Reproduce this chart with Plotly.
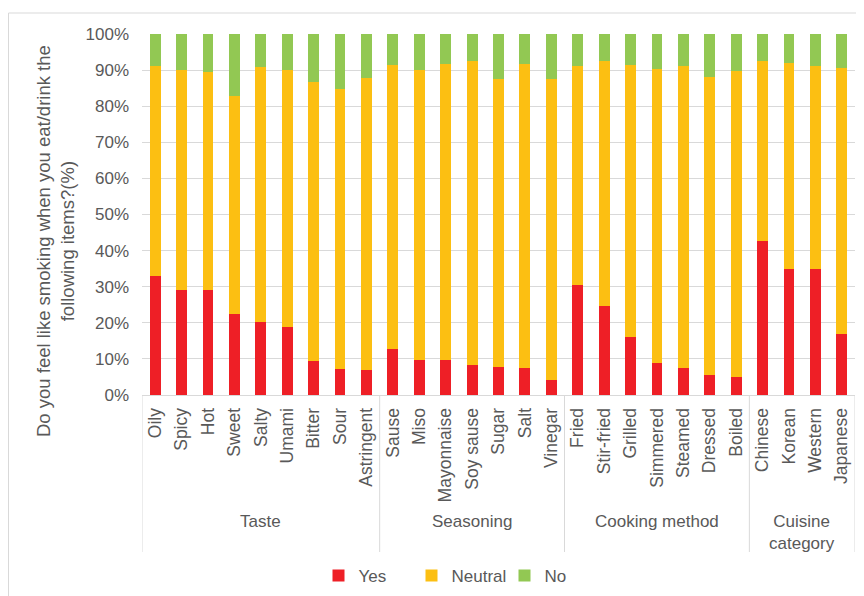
import plotly.graph_objects as go

# ---------------- data ----------------
categories = ["Oily", "Spicy", "Hot", "Sweet", "Salty", "Umami", "Bitter", "Sour", "Astringent",
              "Sause", "Miso", "Mayonnaise", "Soy sause", "Sugar", "Salt", "Vinegar",
              "Fried", "Stir-fried", "Grilled", "Simmered", "Steamed", "Dressed", "Boiled",
              "Chinese", "Korean", "Western", "Japanese"]
group_names = ["Taste", "Seasoning", "Cooking method", "Cuisine<br>category"]
group_sizes = [9, 7, 7, 4]

yes_vals = [33.1, 29.2, 29.0, 22.4, 20.2, 18.7, 9.5, 7.3, 6.8,
            12.8, 9.6, 9.6, 8.2, 7.8, 7.5, 4.1,
            30.6, 24.7, 16.1, 8.9, 7.5, 5.6, 5.0,
            42.6, 34.8, 34.8, 16.8]
neutral_vals = [58.1, 60.8, 60.6, 60.3, 70.7, 71.3, 77.3, 77.6, 81.1,
                78.6, 80.5, 82.1, 84.4, 79.8, 84.1, 83.3,
                60.6, 67.8, 75.3, 81.3, 83.7, 82.4, 84.7,
                49.8, 57.1, 56.3, 73.9]
no_vals = [8.8, 10.0, 10.4, 17.3, 9.1, 10.0, 13.2, 15.1, 12.1,
           8.6, 9.9, 8.3, 7.4, 12.4, 8.4, 12.6,
           8.8, 7.5, 8.6, 9.8, 8.8, 12.0, 10.3,
           7.6, 8.1, 8.9, 9.3]

y_tick_vals = [0, 10, 20, 30, 40, 50, 60, 70, 80, 90, 100]
y_tick_text = [f"{v}%" for v in y_tick_vals]

y_title = "Do you feel like smoking when you eat/drink the<br>following items?(%)"

# ---------------- style ----------------
FONT = "Liberation Sans, Arial, sans-serif"
TXT = "#595959"
GRID = "#D9D9D9"
RED, YEL, GRN = "#EE1F26", "#FCBF12", "#92C853"

OFF = 8                     # page body margin of the html page
W, H = 864 - OFF, 596 - OFF
L, R, T = 142 - OFF, 9, 34 - OFF
B = H - (395 - OFF)
plot_h = H - T - B
plot_w = W - L - R

def py(page_y):  # page pixel y -> paper y
    return (H - B - (page_y - OFF)) / plot_h

def px(page_x):  # page pixel x -> paper x
    return ((page_x - OFF) - L) / plot_w

x_idx = list(range(len(categories)))

fig = go.Figure()
for name, vals, col in [("Yes", yes_vals, RED), ("Neutral", neutral_vals, YEL), ("No", no_vals, GRN)]:
    fig.add_trace(go.Bar(x=x_idx, y=vals, name=name, marker=dict(color=col, line=dict(width=0))))

# group separators and labels
shapes = []
annotations = []
start = 0
bounds = [-0.5]
for gname, gsize in zip(group_names, group_sizes):
    end = start + gsize
    bounds.append(end - 0.5)
    annotations.append(dict(x=(start + end - 1) / 2, xref="x", y=py(510), yref="paper",
                            text=gname, showarrow=False, xanchor="center", yanchor="top",
                            font=dict(family=FONT, size=17, color=TXT)))
    start = end
for b in bounds:
    shapes.append(dict(type="line", xref="x", yref="paper", x0=b, x1=b, y0=0, y1=py(552),
                       line=dict(color=GRID, width=1)))

# outer chart frame
shapes.append(dict(type="rect", xref="paper", yref="paper", x0=px(8.5), x1=px(900), y0=py(650), y1=py(13),
                   line=dict(color=GRID, width=1), fillcolor="rgba(0,0,0,0)", layer="below"))

# y-axis title
annotations.append(dict(x=px(55), xref="paper", y=py(241), yref="paper", text=y_title,
                        textangle=-90, showarrow=False, xanchor="center", yanchor="middle",
                        font=dict(family=FONT, size=18.5, color=TXT)))

fig.update_layout(
    width=W, height=H,
    margin=dict(l=L, r=R, t=T, b=B, autoexpand=False),
    paper_bgcolor="white", plot_bgcolor="white",
    barmode="stack", bargap=0.59,
    font=dict(family=FONT, color=TXT, size=17),
    xaxis=dict(range=[-0.5, len(categories) - 0.5], tickmode="array", tickvals=x_idx,
               ticktext=categories, tickangle=-90, showgrid=False, zeroline=False,
               showline=True, linecolor=GRID, linewidth=1, ticks="", ticklabelstandoff=5,
               tickfont=dict(family=FONT, size=17.5, color=TXT), fixedrange=True),
    yaxis=dict(range=[0, 100], tickmode="array", tickvals=y_tick_vals, ticktext=y_tick_text,
               showgrid=True, gridcolor=GRID, gridwidth=1, zeroline=False, showline=False,
               ticks="", ticklabelstandoff=12, tickfont=dict(family=FONT, size=17, color=TXT)),
    legend=dict(orientation="h", x=(458 - OFF) / W, xanchor="center", xref="container",
                y=1 - (576 - OFF) / H, yanchor="middle", yref="container", traceorder="normal",
                font=dict(family=FONT, size=17, color=TXT), itemwidth=30, entrywidth=48,
                bgcolor="rgba(0,0,0,0)"),
    shapes=shapes, annotations=annotations, showlegend=True,
)

fig.write_html("out.html")
